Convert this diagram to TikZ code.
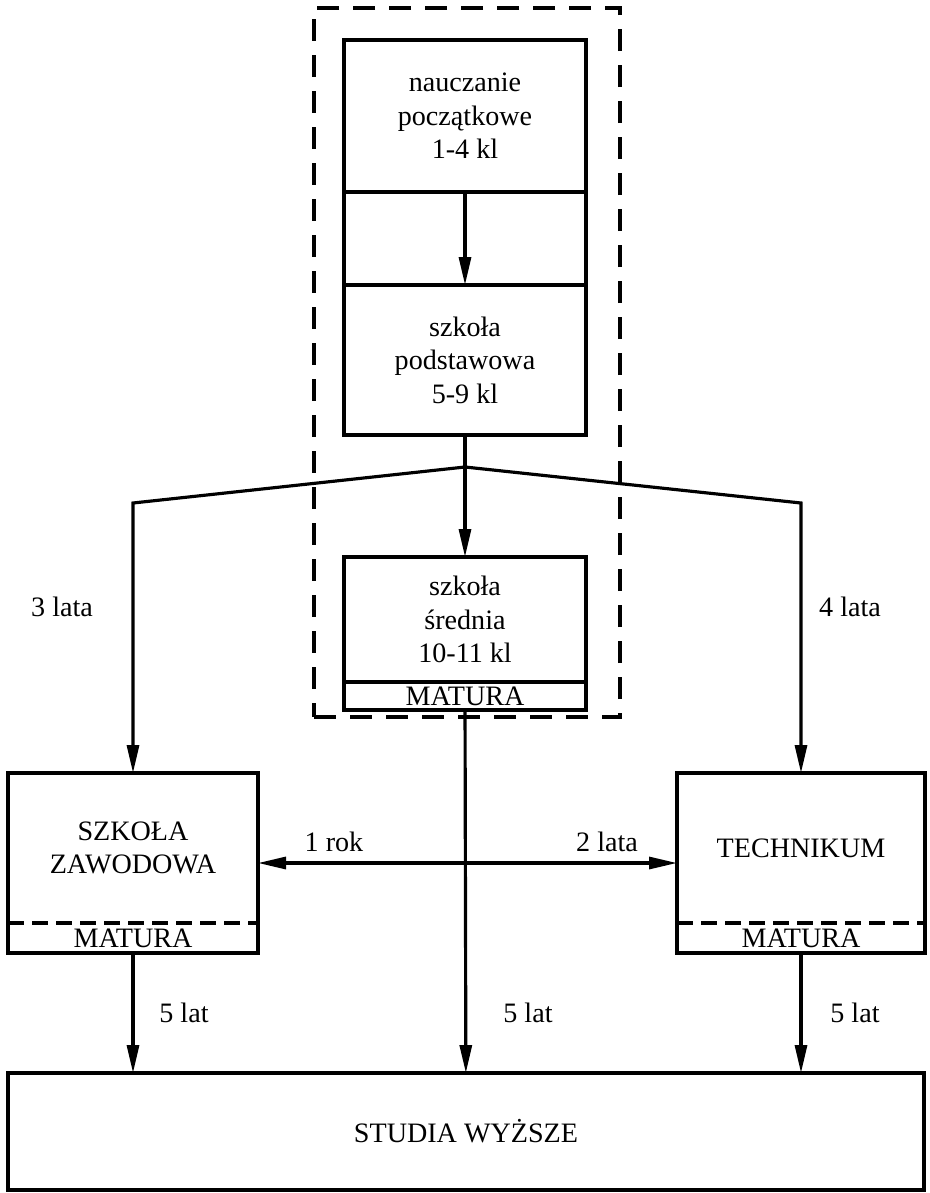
\documentclass[tikz,border=0pt]{standalone}
\usepackage{fontspec}
\setmainfont{Liberation Serif}
\usepackage{tikz}
\usetikzlibrary{arrows.meta, positioning, fit}

\begin{document}
\begin{tikzpicture}[
    font=\fontsize{16}{19}\selectfont,
    box/.style={rectangle, draw=black, line width=2.2pt, inner sep=0pt, outer sep=0pt, text centered, align=center},
    plain/.style={rectangle, inner sep=0pt, outer sep=0pt, text centered, align=center},
    frame/.style={rectangle, draw=black, line width=1.9pt, dash pattern=on 0.44cm off 0.28cm},
    divider/.style={line width=1.9pt, dash pattern=on 0.32cm off 0.16cm},
    line/.style={line width=1.8pt},
    arrow/.style={line width=1.8pt, -{Triangle[length=0.56cm, width=0.24cm]}},
    both/.style={line width=1.8pt, {Triangle[length=0.56cm, width=0.24cm]}-{Triangle[length=0.56cm, width=0.24cm]}}
]
\useasboundingbox (0,0) rectangle (18.58,-23.86);

% dashed frame around the general school
\node (ramka) [frame, minimum width=6.12cm, minimum height=14.18cm] at (9.34,-7.25) {};

\node (nauczanie) [box, minimum width=4.84cm, minimum height=3.04cm] at (9.3,-2.32) {nauczanie\\początkowe\\1-4 kl};
\node (podstawowa) [box, minimum width=4.84cm, minimum height=3cm, below=1.86cm of nauczanie] {szkoła\\podstawowa\\5-9 kl};
\node (srednia) [box, minimum width=4.84cm, minimum height=2.5cm] at (9.3,-12.39) {szkoła\\średnia\\10-11 kl};
\node (matura) [box, minimum width=4.84cm, minimum height=0.56cm, below=0pt of srednia] {MATURA};

\node (zawodowa) [plain, minimum width=5cm, minimum height=3cm] at (2.66,-16.96) {SZKOŁA\\ZAWODOWA};
\node (zawmatura) [plain, minimum width=5cm, minimum height=0.6cm, below=0pt of zawodowa] {MATURA};
\node (zawramka) [box, fit=(zawodowa)(zawmatura)] {};

\node (technikum) [plain, minimum width=4.96cm, minimum height=3cm] at (16.02,-16.96) {TECHNIKUM};
\node (techmatura) [plain, minimum width=4.96cm, minimum height=0.6cm, below=0pt of technikum] {MATURA};
\node (techramka) [box, fit=(technikum)(techmatura)] {};

\node (studia) [box, minimum width=18.32cm, minimum height=2.34cm] at (9.32,-22.63) {STUDIA WYŻSZE};

\coordinate (rozw) at (9.3,-9.34);
\coordinate (zakret) at (0,-10.06);

\draw [line] (nauczanie.south west) -- (podstawowa.north west);
\draw [line] (nauczanie.south east) -- (podstawowa.north east);
\draw [arrow] (nauczanie) -- (podstawowa);
\draw [divider] (zawodowa.south west) -- (zawodowa.south east);
\draw [divider] (technikum.south west) -- (technikum.south east);

\draw [line] (podstawowa) -- (rozw);
\draw [arrow] (rozw) -- (srednia);
\draw [arrow] (rozw) -- (zawramka.north |- zakret) -- (zawramka.north);
\draw [arrow] (rozw) -- (techramka.north |- zakret) -- (techramka.north);
\draw [both] (zawramka) -- (techramka);

\draw [arrow] (matura) -- (studia);
\draw [arrow] (zawramka.south) -- (zawramka.south |- studia.north);
\draw [arrow] (techramka.south) -- (techramka.south |- studia.north);

\node (trzy) at (1.24,-12.14) {3 lata};
\node (cztery) at (17.0,-12.14) {4 lata};
\node (rok) at (6.68,-16.84) {1 rok};
\node (dwa) at (12.14,-16.84) {2 lata};
\node (piec1) at (3.68,-20.26) {5 lat};
\node (piec2) at (10.56,-20.26) {5 lat};
\node (piec3) at (17.1,-20.26) {5 lat};

\end{tikzpicture}
\end{document}
